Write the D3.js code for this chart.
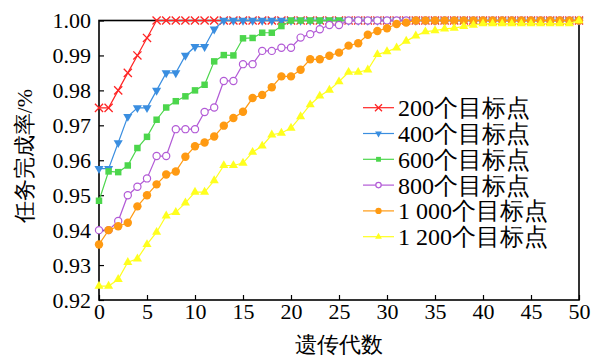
<!DOCTYPE html>
<html>
<head>
<meta charset="utf-8">
<script src="https://cdn.jsdelivr.net/npm/d3@7"></script>
<style>
  html,body{margin:0;padding:0;background:#fff;}
</style>
</head>
<body>
<div id="chart"></div>
<script>
// 任务完成率随遗传代数变化
const generations = d3.range(0, 51);
const seriesNames = ["200个目标点","400个目标点","600个目标点","800个目标点","1 000个目标点","1 200个目标点"];
const yTicks = [0.92,0.93,0.94,0.95,0.96,0.97,0.98,0.99,1.00];
const xTicks = [0,5,10,15,20,25,30,35,40,45,50];

const s200 = [0.975,0.975,0.980,0.985,0.990,0.995,1,1,1,1, 1,1,1,1,1,1,1,1,1,1, 1,1,1,1,1,1,1,1,1,1, 1,1,1,1,1,1,1,1,1,1, 1,1,1,1,1,1,1,1,1,1, 1];
const s400 = [0.9576,0.9576,0.965,0.9725,0.975,0.975,0.980,0.985,0.985,0.990, 0.9925,0.9925,0.9975,1,1,1,1,1,1,1, 1,1,1,1,1,1,1,1,1,1, 1,1,1,1,1,1,1,1,1,1, 1,1,1,1,1,1,1,1,1,1, 1];
const s600 = [0.9484,0.9568,0.9566,0.9585,0.9635,0.9667,0.9716,0.9751,0.9769,0.9783, 0.980,0.9816,0.9883,0.9901,0.990,0.9949,0.995,0.9965,0.9965,0.9984, 1,1,1,1,1,1,1,1,1,1, 1,1,1,1,1,1,1,1,1,1, 1,1,1,1,1,1,1,1,1,1, 1];
const s800 = [0.940,0.940,0.9426,0.950,0.9524,0.9548,0.9612,0.9612,0.9689,0.9689, 0.9689,0.9738,0.9751,0.9827,0.9827,0.9875,0.9875,0.9913,0.9913,0.9922, 0.9922,0.9951,0.9961,0.9975,0.9987,0.9987,1,1,1,1, 1,1,1,1,1,1,1,1,1,1, 1,1,1,1,1,1,1,1,1,1, 1];
const s1000 = [0.9359,0.940,0.9411,0.9421,0.9468,0.950,0.9531,0.9559,0.9568,0.961, 0.964,0.9651,0.9668,0.9699,0.9721,0.9739,0.9778,0.9787,0.9809,0.984, 0.984,0.9859,0.9889,0.9889,0.9899,0.9908,0.9928,0.9935,0.9959,0.997, 0.9978,0.999,0.9994,1,1,1,1,1,1,1, 1,1,1,1,1,1,1,1,1,1, 1];
const s1200 = [0.924,0.924,0.9259,0.9308,0.9318,0.9359,0.9394,0.9441,0.9451,0.9478, 0.9509,0.9509,0.9542,0.9585,0.9585,0.9592,0.9623,0.9641,0.9673,0.9678, 0.9692,0.9725,0.9759,0.9784,0.9801,0.9825,0.9852,0.9852,0.9859,0.9903, 0.9911,0.9922,0.9941,0.9956,0.9968,0.9971,0.9976,0.9978,0.9983,0.9987, 0.9991,0.9991,0.9991,0.9991,0.9991,0.9991,0.9991,0.9991,0.9991,0.9991, 1];

const seriesValues = [s200, s400, s600, s800, s1000, s1200];
const colors = ["#ff2424","#3a8ee0","#4cd64c","#b25ad6","#ff9a12","#ffff1e"];
const marks = ["x","down","square","ring","dot","up"];
const FONT = "Liberation Serif";

const W = 598, H = 358;
const m = {l:99, r:19, t:20.5, b:58};
const svg = d3.select("#chart").append("svg").attr("width",W).attr("height",H);
svg.append("rect").attr("width",W).attr("height",H).attr("fill","#fff");

const x = d3.scaleLinear().domain([0,50]).range([m.l, W-m.r]);
const y = d3.scaleLinear().domain([0.92,1.00]).range([H-m.b, m.t]);

// Achsen (Ticks nach innen)
svg.append("g").attr("transform",`translate(0,${H-m.b})`).attr("font-family",null)
  .call(d3.axisBottom(x).tickValues(xTicks).tickSize(-5).tickPadding(2).tickFormat(d3.format("d")))
  .attr("font-family",FONT).attr("font-size",22)
  .call(g=>g.select(".domain").remove())
  .call(g=>g.selectAll("line").attr("stroke","#000").attr("stroke-width",1.2))
  .call(g=>g.selectAll("text").attr("fill","#000").attr("dy","0.76em"));
svg.append("g").attr("transform",`translate(${m.l},0)`)
  .call(d3.axisLeft(y).tickValues(yTicks).tickSize(-5).tickPadding(8).tickFormat(d3.format(".2f")))
  .attr("font-family",FONT).attr("font-size",22)
  .call(g=>g.select(".domain").remove())
  .call(g=>g.selectAll("line").attr("stroke","#000").attr("stroke-width",1.2))
  .call(g=>g.selectAll("text").attr("fill","#000").attr("dy","0.33em"));

// Rahmen
svg.append("rect").attr("x",x(0)).attr("y",y(1)).attr("width",x(50)-x(0)).attr("height",y(0.92)-y(1))
  .attr("fill","none").attr("stroke","#000").attr("stroke-width",1.6);

const line = d3.line().x((d,i)=>x(generations[i])).y(d=>y(d));

function marker(g, type, color, big){
  const k = big ? 1 : 0.75;
  if(type==="x") return g.append("path").attr("d",d3.symbol(d3.symbolX, 45*k)()).attr("fill","none").attr("stroke",color).attr("stroke-width",1.3);
  if(type==="down") return g.append("path").attr("d",d3.symbol(d3.symbolTriangle, 36*k*k)()).attr("transform","rotate(180)").attr("fill",color);
  if(type==="up") return g.append("path").attr("d",d3.symbol(d3.symbolTriangle, 36*k*k)()).attr("fill",color);
  if(type==="square") return g.append("path").attr("d",d3.symbol(d3.symbolSquare, 42*k*k)()).attr("fill",color);
  if(type==="ring") return g.append("circle").attr("r",3.6*k).attr("fill","#fff").attr("stroke",color).attr("stroke-width",1.2);
  return g.append("circle").attr("r",4.2*k).attr("fill",color);
}

seriesValues.forEach((vals,si)=>{
  const g = svg.append("g");
  g.append("path").datum(vals).attr("d",line).attr("fill","none").attr("stroke",colors[si]).attr("stroke-width",1.2);
  vals.forEach((v,i)=>{
    const mg = g.append("g").attr("transform",`translate(${x(generations[i])},${y(v)})`);
    marker(mg, marks[si], colors[si], true);
  });
});

// Legende
const lg = svg.append("g").attr("font-family",FONT);
seriesNames.forEach((name,i)=>{
  const cy = 107.7 + i*25.8;
  const row = lg.append("g").attr("transform",`translate(0,${cy})`);
  row.append("line").attr("x1",363).attr("x2",394).attr("stroke",colors[i]).attr("stroke-width",1.2);
  const mg = row.append("g").attr("transform","translate(378.5,0)");
  marker(mg, marks[i], colors[i], false);
  row.append("text").attr("x",398).attr("dy","0.35em").attr("font-size",24).text(name);
});

// Achsentitel
svg.append("text").attr("x",(x(0)+x(50))/2).attr("y",352).attr("text-anchor","middle").attr("font-family",FONT).attr("font-size",22).text("遗传代数");
svg.append("text").attr("transform",`translate(32,${(y(0.92)+y(1))/2 - 4}) rotate(-90)`).attr("text-anchor","middle").attr("font-family",FONT).attr("font-size",22).text("任务完成率/%");
</script>
</body>
</html>
